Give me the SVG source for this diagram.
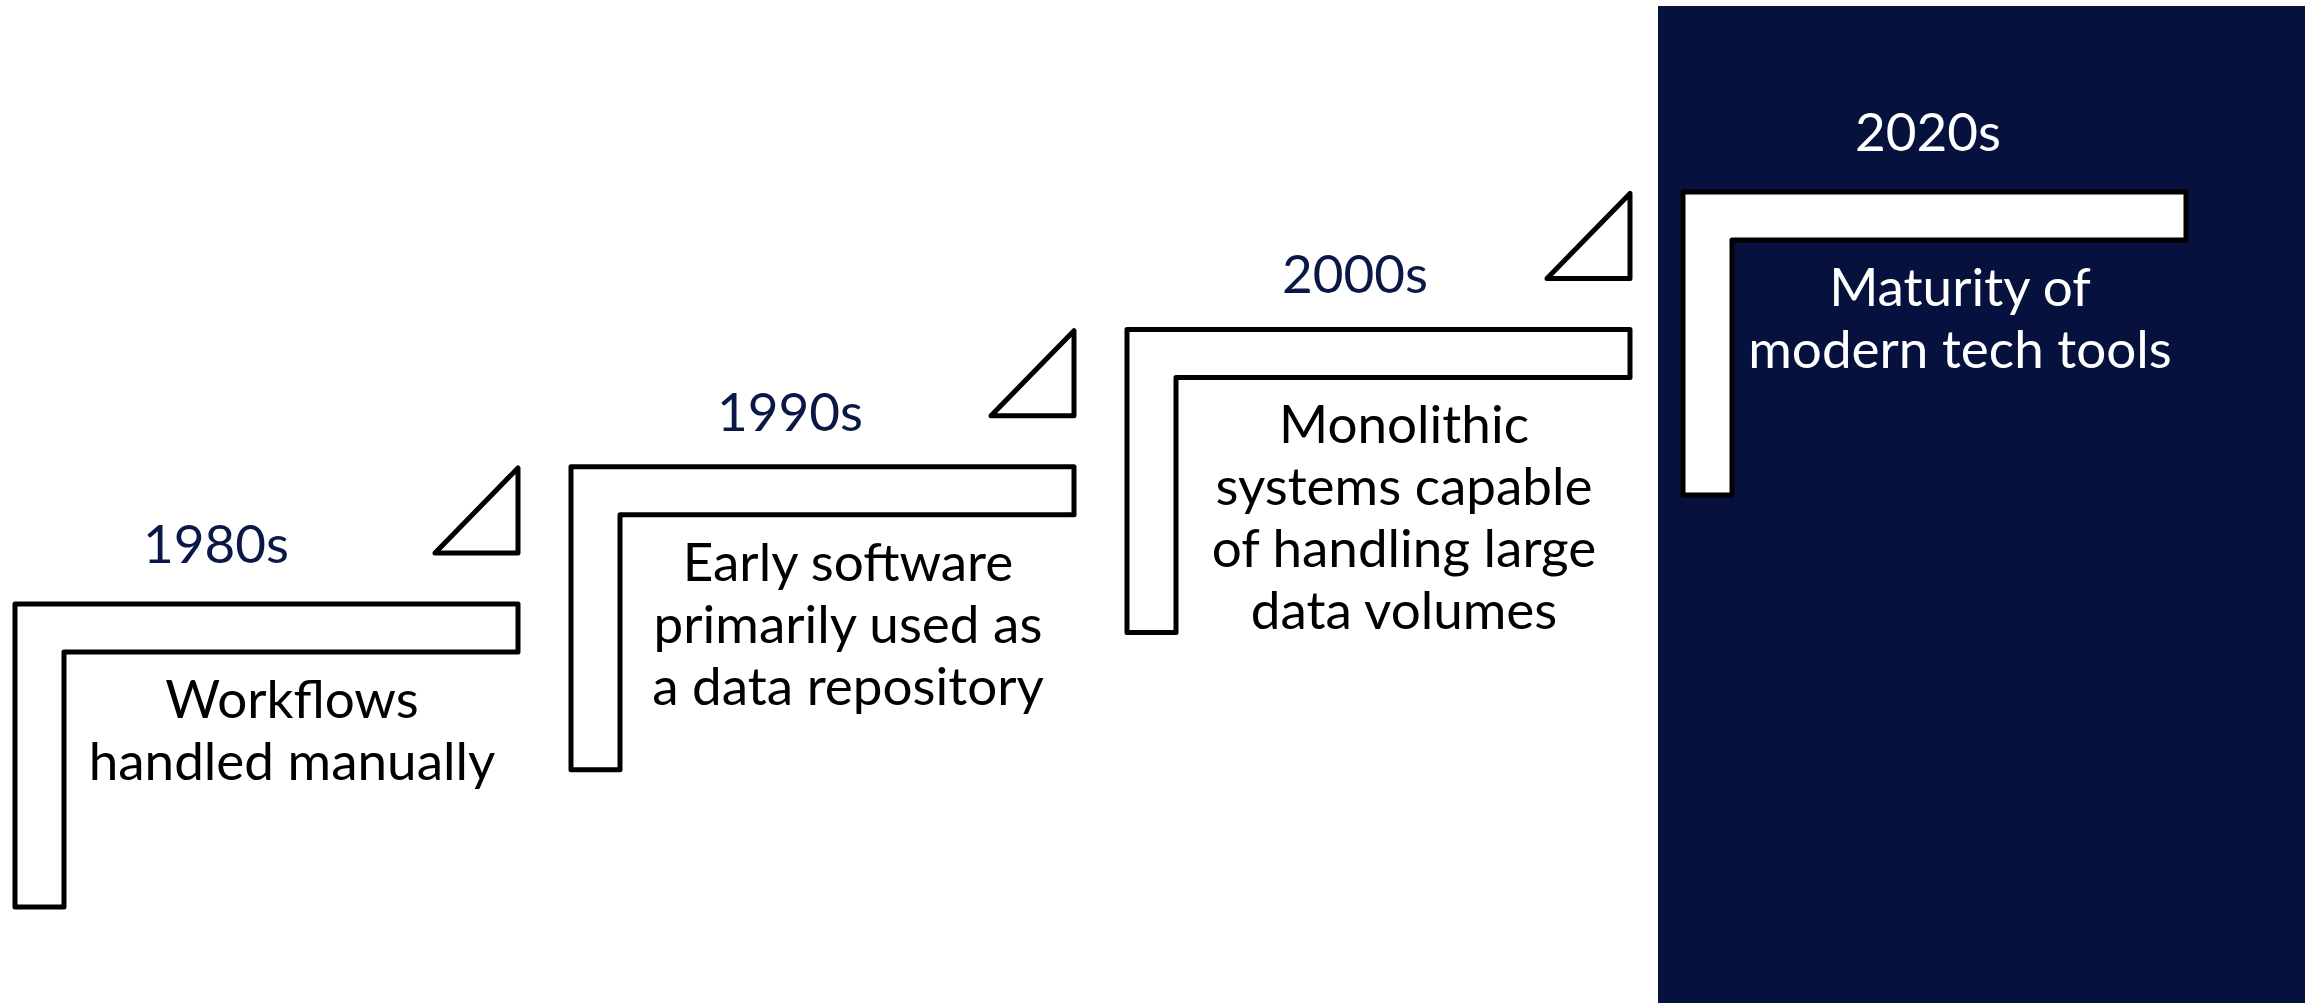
<svg xmlns="http://www.w3.org/2000/svg" width="2305" height="1003" viewBox="0 0 2305 1003">
<style>
.step{fill:#ffffff;stroke:#000000;stroke-width:5;stroke-linejoin:round}
.tri{fill:#ffffff;stroke:#000000;stroke-width:5;stroke-linejoin:round}
.t{font-family:Lato,"Open Sans","Liberation Sans",sans-serif;font-size:53px;text-anchor:middle}
.body{fill:#000000}
.year{fill:#0a1747}
.w{fill:#ffffff}
</style>
<rect id="panel" x="1658" y="6" width="647" height="997" fill="#06113d"/>
<g id="connectors">
<polygon class="tri" points="435,553 518,468 518,553"/>
<polygon class="tri" points="991,415.7 1074,330.7 1074,415.7"/>
<polygon class="tri" points="1547,278.4 1630,193.4 1630,278.4"/>
</g>
<g id="step1980">
<path class="step" d="M15,604 H518 V652 H64 V907 H15 Z"/>
<text class="t year" x="216" y="563">1980s</text>
<text class="t body" x="292" y="718">Workflows</text>
<text class="t body" x="292" y="780">handled manually</text>
</g>
<g id="step1990">
<path class="step" d="M571,466.7 H1074 V514.7 H620 V769.7 H571 Z"/>
<text class="t year" x="790" y="431">1990s</text>
<text class="t body" x="848" y="580.7">Early software</text>
<text class="t body" x="848" y="642.7">primarily used as</text>
<text class="t body" x="848" y="704.7">a data repository</text>
</g>
<g id="step2000">
<path class="step" d="M1127,329.4 H1630 V377.4 H1176 V632.4 H1127 Z"/>
<text class="t year" x="1355" y="293">2000s</text>
<text class="t body" x="1404" y="443.4">Monolithic</text>
<text class="t body" x="1404" y="505.4">systems capable</text>
<text class="t body" x="1404" y="567.4">of handling large</text>
<text class="t body" x="1404" y="629.4">data volumes</text>
</g>
<g id="step2020">
<path class="step" d="M1683,192.1 H2186 V240.1 H1732 V495.1 H1683 Z"/>
<text class="t w" x="1928" y="151">2020s</text>
<text class="t w" x="1960" y="306">Maturity of</text>
<text class="t w" x="1960" y="368">modern tech tools</text>
</g>
</svg>
